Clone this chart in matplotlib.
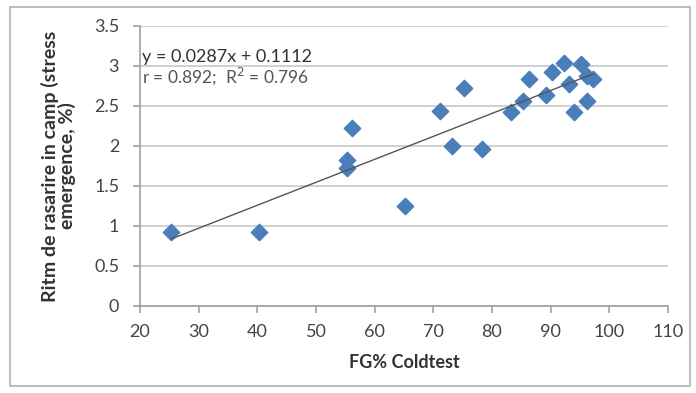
import matplotlib.pyplot as plt
from matplotlib.patches import Rectangle

plt.rcParams['font.family'] = ['Lato', 'DejaVu Sans']

# data
coldtest = [25.3, 40.3, 55.3, 55.3, 56.1, 65.1, 71.1, 73.2, 75.2, 78.3,
            83.3, 85.2, 86.3, 89.2, 90.2, 92.2, 93.1, 94.0, 95.1, 96.2,
            96.2, 97.2]
emergence = [0.93, 0.93, 1.83, 1.73, 2.22, 1.25, 2.44, 2.00, 2.73, 1.96,
             2.43, 2.56, 2.84, 2.64, 2.92, 3.04, 2.77, 2.43, 3.03, 2.56,
             2.87, 2.84]
slope = 0.0287
intercept = 0.1112
eq_text = "y = 0.0287x + 0.1112"
r_text = "r = 0.892;  R$^2$ = 0.796"
x_ticks = list(range(20, 111, 10))
y_ticks = [0, 0.5, 1, 1.5, 2, 2.5, 3, 3.5]

fig = plt.figure(figsize=(6.96, 3.93), dpi=100)
ax = fig.add_axes([140 / 696, 87 / 393, 528 / 696, 280 / 393])

fig.patches.append(Rectangle((10 / 696, 7 / 393), 680 / 696, 379 / 393,
                             transform=fig.transFigure, fill=False,
                             edgecolor='#b0b0b0', linewidth=1.2))

ax.grid(axis='y', color='#c8c8c8', linewidth=1.2)
ax.set_axisbelow(True)

ax.scatter(coldtest, emergence, marker='D', s=70, color='#4a7ebb', zorder=3)

xs = [min(coldtest), max(coldtest)]
ax.plot(xs, [slope * x + intercept for x in xs], color='#555555', linewidth=1, zorder=4)

ax.set_xlim(20, 110)
ax.set_ylim(0, 3.5)
ax.set_xticks(x_ticks)
ax.set_yticks(y_ticks)
ax.set_yticklabels(['0', '0.5', '1', '1.5', '2', '2.5', '3', '3.5'])

for s in ['top', 'right']:
    ax.spines[s].set_visible(False)
for s in ['left', 'bottom']:
    ax.spines[s].set_color('#a0a0a0')
    ax.spines[s].set_linewidth(1.2)
ax.tick_params(colors='#a0a0a0', labelcolor='#444444', labelsize=13, length=5, width=1.2)
ax.tick_params(axis='x', pad=8)
ax.tick_params(axis='y', pad=10)

ax.text(20.3, 3.11, eq_text, fontsize=13, color='#333333', va='center')
ax.text(20.3, 2.87, r_text, fontsize=12.5, color='#555555', va='center')

ax.set_xlabel("FG% Coldtest", fontsize=13, fontweight='bold', color='#333333', labelpad=10)
ax.set_ylabel("Ritm de rasarire in camp (stress\nemergence, %)", fontsize=14,
              fontweight='bold', color='#333333', labelpad=13, linespacing=0.95)

fig.savefig("out.png", dpi=100)
